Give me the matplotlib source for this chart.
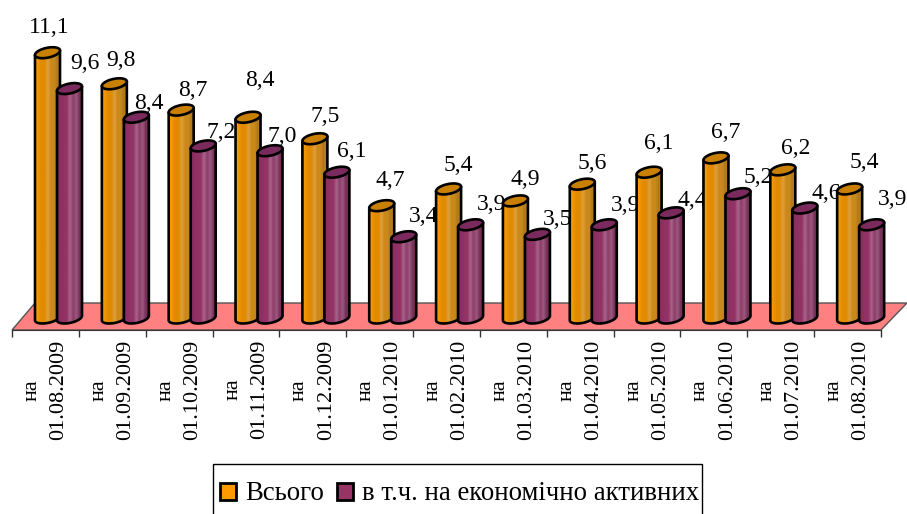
#cilindri 3d finti con assi normali

import numpy as np
import matplotlib.pyplot as plt
from matplotlib.colors import LinearSegmentedColormap
from matplotlib.patches import Polygon, Patch, Rectangle

plt.rcParams['font.family'] = ['Liberation Serif', 'DejaVu Serif']
plt.rcParams['font.size'] = 16

dates = ['01.08.2009', '01.09.2009', '01.10.2009', '01.11.2009', '01.12.2009', '01.01.2010', '01.02.2010',
         '01.03.2010', '01.04.2010', '01.05.2010', '01.06.2010', '01.07.2010', '01.08.2010']
total = [11.1, 9.8, 8.7, 8.4, 7.5, 4.7, 5.4, 4.9, 5.6, 6.1, 6.7, 6.2, 5.4]
active = [9.6, 8.4, 7.2, 7.0, 6.1, 3.4, 3.9, 3.5, 3.9, 4.4, 5.2, 4.6, 3.9]
legend_names = ['Всього', 'в т.ч. на економічно активних']

# label offsets from the bar top, in pixels
total_dx = [1.5, 6.6, 11.8, 11.9, 10, 9, 9.4, 9.5, 9.7, 9.8, 10, 13, 15]
total_dy = [-25.7, -23, -20, -37, -22, -25, -23, -21, -21, -29, -25, -21, -26]
active_dx = [15.5, 12.6, 18, 12, 15, 20, 21, 20.5, 21, 21, 20, 21, 21]
active_dy = [-24.6, -14, -13, -14, -21, -20, -20, -15, -19, -12, -16, -15, -25]

W, H = 907, 514
left, right, axis_y = 12, 881, 330
base_y = 318
unit = 23.9
step = (right - left) / 13
total_cx = 47.5 - left
active_cx = 69.5 - left

fig = plt.figure(figsize=(W / 100, H / 100), dpi=100)
ax = fig.add_axes([left / W, (H - axis_y) / H, (right - left) / W, axis_y / H])
xlim = (0, 13)
ylim = ((base_y - axis_y) / unit, base_y / unit)


def to_x(px):
    return (px - left) / step


def to_y(py):
    return (base_y - py) / unit


orange = LinearSegmentedColormap.from_list('o', ['#FFA000', '#F09400', '#E08A00', '#E08A00', '#DDA040', '#CC8814',
                                                 '#C88A20', '#B07818', '#B8842C'])
purple = LinearSegmentedColormap.from_list('p', ['#7E2A58', '#8E3062', '#933264', '#933264', '#A8668A', '#8E3C68',
                                                 '#9A5A80', '#7A3058', '#6E2E50'])


def cylinder(bx, value, z, cmap, topcolor):
    a, b, slope = 12.5, 5, 0.18
    w = a / step
    th = np.linspace(0, np.pi, 40)
    xs = bx + a * np.cos(th) / step
    ys = -(b * np.sin(th) - slope * a * np.cos(th)) / unit
    pts = [(bx - w, value - slope * a / unit), (bx + w, value + slope * a / unit)] + list(zip(xs, ys))
    body = Polygon(pts, closed=True, fc='none', ec='black', lw=1.9, zorder=z, joinstyle='round', clip_on=False)
    ax.add_patch(body)
    im = ax.imshow(np.linspace(0, 1, 64)[None, :], cmap=cmap, aspect='auto', zorder=z - 0.1,
                   extent=(bx - w, bx + w, -1, value + 1))
    im.set_clip_box(fig.bbox)
    im.set_clip_path(body)
    # tilted top, sampled so it follows the slant in pixel space
    t = np.linspace(0, 2 * np.pi, 60)
    ex = bx + a * np.cos(t) / step
    ey = value - (b * np.sin(t) - slope * a * np.cos(t)) / unit
    ax.add_patch(Polygon(list(zip(ex, ey)), closed=True, fc=topcolor, ec='black', lw=1.9, zorder=z + 0.1, clip_on=False))


# floor
floor = [(to_x(12), to_y(330)), (to_x(881), to_y(330)), (to_x(907), to_y(303)), (to_x(35), to_y(303))]
ax.add_patch(Polygon(floor, closed=True, fc='#FF8080', ec='#555555', lw=1, zorder=1, clip_on=False))

for i in range(13):
    x1 = i + total_cx / step
    x2 = i + active_cx / step
    cylinder(x1, total[i], 3 + i, orange, '#C98000')
    cylinder(x2, active[i], 3.4 + i, purple, '#7A2A5C')
    ax.annotate(f'{total[i]:.1f}'.replace('.', ','), (x1, total[i]), xytext=(total_dx[i], -total_dy[i]),
                textcoords='offset pixels', ha='center', va='center', zorder=2, annotation_clip=False, fontsize=17)
    ax.annotate(f'{active[i]:.1f}'.replace('.', ','), (x2, active[i]), xytext=(active_dx[i], -active_dy[i]),
                textcoords='offset pixels', ha='center', va='center', zorder=2, annotation_clip=False, fontsize=17)

ax.set_xlim(xlim)
ax.set_ylim(ylim)
ax.patch.set_alpha(0)
for s in ['left', 'right', 'top']:
    ax.spines[s].set_visible(False)
ax.spines['bottom'].set_color('#333333')
ax.set_yticks([])
ax.set_xticks(range(14))
ax.set_xticklabels([])
ax.tick_params(axis='x', which='major', length=5, width=1, color='#333333')
ax.set_xticks(np.arange(13) + 0.5, minor=True)
ax.set_xticklabels(['на\n' + d for d in dates], minor=True, rotation=90, ha='center', va='top', multialignment='center',
                   linespacing=1.55)
ax.tick_params(axis='x', which='minor', length=0, pad=7)

# legend box goes past the bottom of the picture
fig.add_artist(Rectangle((213 / W, -0.02), (702 - 213) / W, (H - 464) / H + 0.02, transform=fig.transFigure,
                         fc='white', ec='black', lw=1))
handles = [Patch(fc='#FF9900', ec='black', lw=2), Patch(fc='#993366', ec='black', lw=2)]
fig.legend(handles, legend_names, ncol=2, frameon=False, loc='center', bbox_to_anchor=((215 + 704) / 2 / W, (H - 494) / H),
           fontsize=19.3, handlelength=0.6, handleheight=0.6, handletextpad=0.32, columnspacing=0.5, borderpad=0, borderaxespad=0)

plt.savefig('out.png', dpi=100)
